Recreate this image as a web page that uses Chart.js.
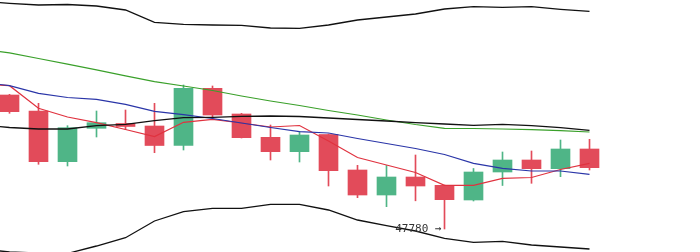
<!DOCTYPE html>
<html>
<head>
<meta charset="utf-8">
<style>
  html, body { margin: 0; padding: 0; background: #ffffff; }
  #wrap { width: 700px; height: 252px; }
</style>
<script src="https://cdn.jsdelivr.net/npm/chart.js@4.4.1/dist/chart.umd.min.js"></script>
</head>
<body>
<div id="wrap"><canvas id="c" width="700" height="252"></canvas></div>
<script>
// Candle data (index 0..20)
const opens  = [49120,48960,48453,48787,48835,48810,48615,49187,48930,48697,48553,48725,48370,48120,48300,48217,48070,48350,48470,48383,48580];
const highs  = [49127,49037,48813,48960,48970,49037,49220,49210,48937,48820,48753,48730,48417,48415,48520,48220,48385,48550,48560,48670,48677];
const lows   = [48937,48427,48410,48700,48775,48543,48570,48890,48690,48470,48450,48210,48093,48003,48062,47780,48060,48215,48237,48303,48370];
const closes = [48953,48453,48793,48843,48805,48615,49187,48920,48693,48553,48720,48363,48120,48300,48210,48073,48350,48470,48383,48580,48393];

// Indicator lines: first value belongs to the (clipped) period before index 0
const bollUpper = [50055,50037,50020,50025,50010,49970,49847,49827,49820,49817,49790,49787,49820,49870,49900,49930,49980,50003,49997,50003,49977,49957];
const bollMid   = [48820,48795,48780,48780,48813,48827,48863,48893,48897,48907,48910,48905,48890,48875,48860,48844,48830,48817,48827,48813,48793,48767];
const bollLower = [47580,47550,47540,47535,47610,47693,47860,47953,47987,47987,48027,48027,47970,47870,47813,47760,47687,47647,47657,47620,47600,47580];
const maLong    = [49578,49541,49485,49428,49371,49312,49253,49210,49165,49110,49060,49015,48965,48920,48870,48825,48787,48785,48780,48773,48763,48750];
const maMid     = [49250,49213,49137,49095,49077,49027,48957,48923,48885,48840,48795,48753,48740,48685,48635,48585,48525,48437,48387,48360,48360,48327];
const maShort   = [49230,49213,48987,48900,48843,48775,48705,48847,48877,48840,48800,48815,48660,48495,48420,48345,48217,48217,48287,48295,48375,48437];

const UP = '#4fb587';
const DOWN = '#e24b5a';

const wickData = opens.map((o, i) => ({ x: i, y: [lows[i], highs[i]] }));
const bodyData = opens.map((o, i) => ({ x: i, y: [o, closes[i]] }));
const candleColor = opens.map((o, i) => closes[i] >= o ? UP : DOWN);

function linePts(arr) { return arr.map((v, k) => ({ x: k - 1, y: v })); }
function lineDs(arr, color, w) {
  return { type: 'line', data: linePts(arr), borderColor: color, borderWidth: w,
           pointRadius: 0, tension: 0, fill: false, order: 1 };
}

const minLabel = {
  id: 'minLabel',
  afterDatasetsDraw(chart) {
    let idx = 0;
    lows.forEach((v, i) => { if (v < lows[idx]) idx = i; });
    const x = chart.scales.x.getPixelForValue(idx);
    const y = chart.scales.y.getPixelForValue(lows[idx]);
    const ctx = chart.ctx;
    ctx.save();
    ctx.font = '11px "DejaVu Sans Mono", monospace';
    ctx.fillStyle = '#333';
    ctx.textAlign = 'right';
    ctx.textBaseline = 'middle';
    ctx.fillText(String(lows[idx]) + ' \u2192', x - 3, y);
    ctx.restore();
  }
};

new Chart(document.getElementById('c'), {
  data: {
    datasets: [
      { type: 'bar', data: wickData, backgroundColor: candleColor, barThickness: 1, grouped: false, order: 3 },
      { type: 'bar', data: bodyData, backgroundColor: candleColor, barThickness: 19, grouped: false, order: 2 },
      lineDs(bollUpper, '#111', 1.3),
      lineDs(bollMid, '#111', 1.3),
      lineDs(bollLower, '#111', 1.3),
      lineDs(maLong, '#3aa02a', 1.2),
      lineDs(maMid, '#2a35a8', 1.2),
      lineDs(maShort, '#e0323f', 1.2)
    ]
  },
  options: {
    responsive: false,
    animation: false,
    layout: { padding: 0 },
    plugins: { legend: { display: false }, tooltip: { enabled: false } },
    scales: {
      x: { type: 'linear', offset: false, grace: 0, min: -9.5 / 29, max: (700 - 9.5) / 29, display: false },
      y: { type: 'linear', grace: 0, min: 47550, max: 50070, display: false }
    }
  },
  plugins: [minLabel]
});
</script>
</body>
</html>
